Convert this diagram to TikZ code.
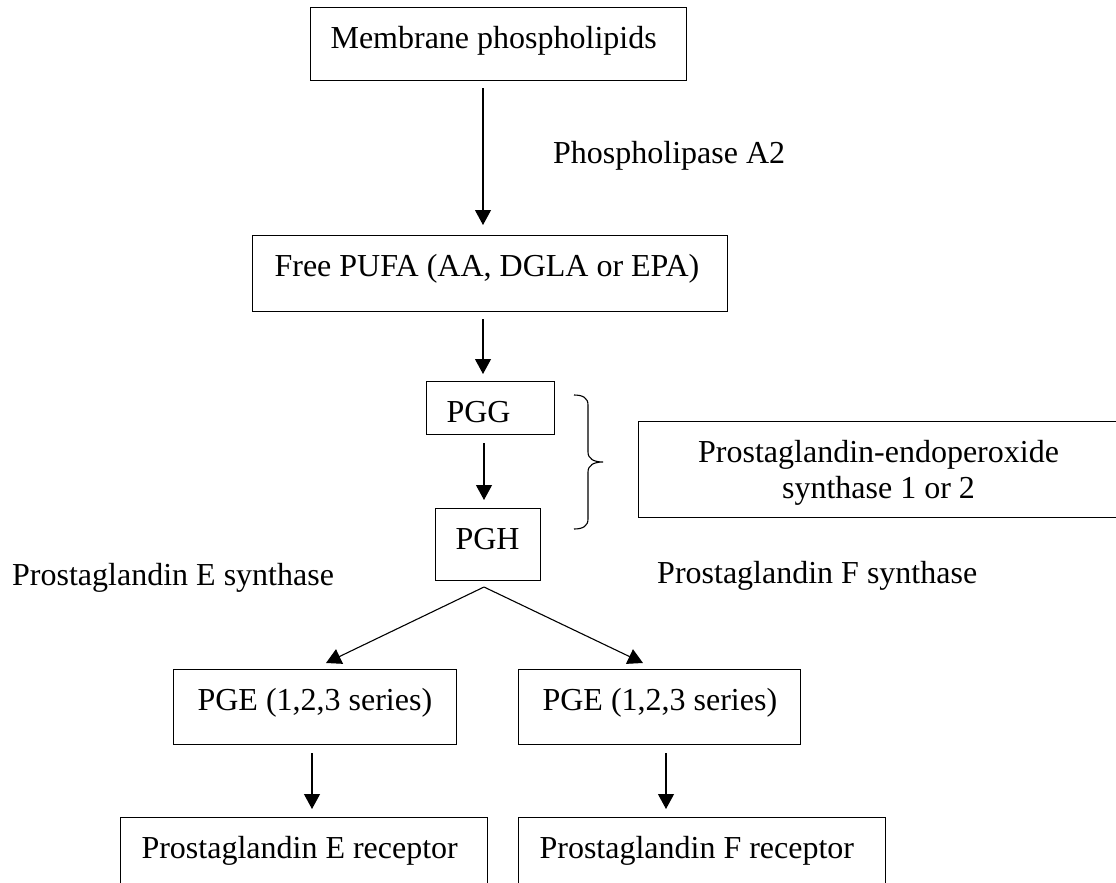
\documentclass[tikz,border=0pt]{standalone}
\usepackage{fontspec}
\setmainfont{Liberation Serif}
\usetikzlibrary{arrows.meta}
% plain, rigid interword spacing inside aligned node text
\newcommand{\natspace}{\spaceskip=0.25em\xspaceskip=0.25em\relax}
\begin{document}
\begin{tikzpicture}[x=1pt,y=-1pt,
  font=\fontsize{32}{36}\selectfont,
  box/.style={draw, line width=1.1pt, anchor=north west, inner sep=0pt,
    text height=41pt, align=left},
  lbl/.style={inner sep=0pt, anchor=base west},
  arr/.style={-{Triangle[length=15pt,width=16pt]}, line width=1.1pt},
  brace/.style={line width=1.1pt}]
\useasboundingbox (0,0) rectangle (1116,883);
\clip (0,0) rectangle (1116,883);
\fill[white] (0,0) rectangle (1116,883);

% boxes of the pathway
\node[box, text width=376pt, text depth=32pt] (mem) at (310,7)
  {\natspace\hspace*{20pt}Membrane phospholipids};
\node[box, text width=475pt, text depth=35pt] (pufa) at (252,235)
  {\natspace\hspace*{22pt}Free PUFA (AA, DGLA or EPA)};
\node[box, text width=128pt, text depth=12pt] (pgg) at (426,381)
  {\natspace\hspace*{20pt}PGG};
\node[box, text width=105pt, text depth=31pt] (pgh) at (435,508)
  {\natspace\hspace*{20pt}PGH};
\node[box, text width=480pt, text depth=55pt, align=center] (pges) at (638,421)
  {\natspace Prostaglandin-endoperoxide\\\natspace synthase 1 or 2};
\node[box, text width=283pt, text depth=34pt] (pgeE) at (173,669)
  {\natspace\hspace*{24pt}PGE (1,2,3 series)};
\node[box, text width=282pt, text depth=34pt] (pgeF) at (518,669)
  {\natspace\hspace*{24pt}PGE (1,2,3 series)};
\node[box, text width=367pt, text depth=35pt] (recE) at (120,817)
  {\natspace\hspace*{21pt}Prostaglandin E receptor};
\node[box, text width=367pt, text depth=35pt] (recF) at (518,817)
  {\natspace\hspace*{21pt}Prostaglandin F receptor};

% enzyme labels
\node[lbl] (pla2) at (553,163) {Phospholipase A2};
\node[lbl] (pges2) at (12,585) {Prostaglandin E synthase};
\node[lbl] (pgfs) at (657,583) {Prostaglandin F synthase};

% columns and branch points of the connectors
\coordinate (colA) at (483,0);
\coordinate (colB) at (484,0);
\coordinate (colE) at (312,0);
\coordinate (colF) at (666,0);
\coordinate (split) at (484,587);
\coordinate (tipE) at (326,663);
\coordinate (tipF) at (643,663);

% connectors
\draw[arr, shorten <=7pt, shorten >=10pt] (mem.south -| colA) -- (pufa.north -| colA);
\draw[arr, shorten <=7pt, shorten >=7pt] (pufa.south -| colA) -- (pgg.north -| colA);
\draw[arr, shorten <=8pt, shorten >=8pt] (pgg.south -| colB) -- (pgh.north -| colB);
\draw[arr] (split) -- (tipE);
\draw[arr] (split) -- (tipF);
\draw[arr, shorten <=8pt, shorten >=8pt] (pgeE.south -| colE) -- (recE.north -| colE);
\draw[arr, shorten <=8pt, shorten >=8pt] (pgeF.south -| colF) -- (recF.north -| colF);

% brace grouping PGG and PGH
\draw[brace] (574,395) .. controls (583,395) and (588,398) .. (588,405)
  -- (588,452) .. controls (588,459) and (594,462) .. (603,462)
  .. controls (594,462) and (588,465) .. (588,472)
  -- (588,519) .. controls (588,526) and (583,529) .. (574,529);
\end{tikzpicture}
\end{document}
